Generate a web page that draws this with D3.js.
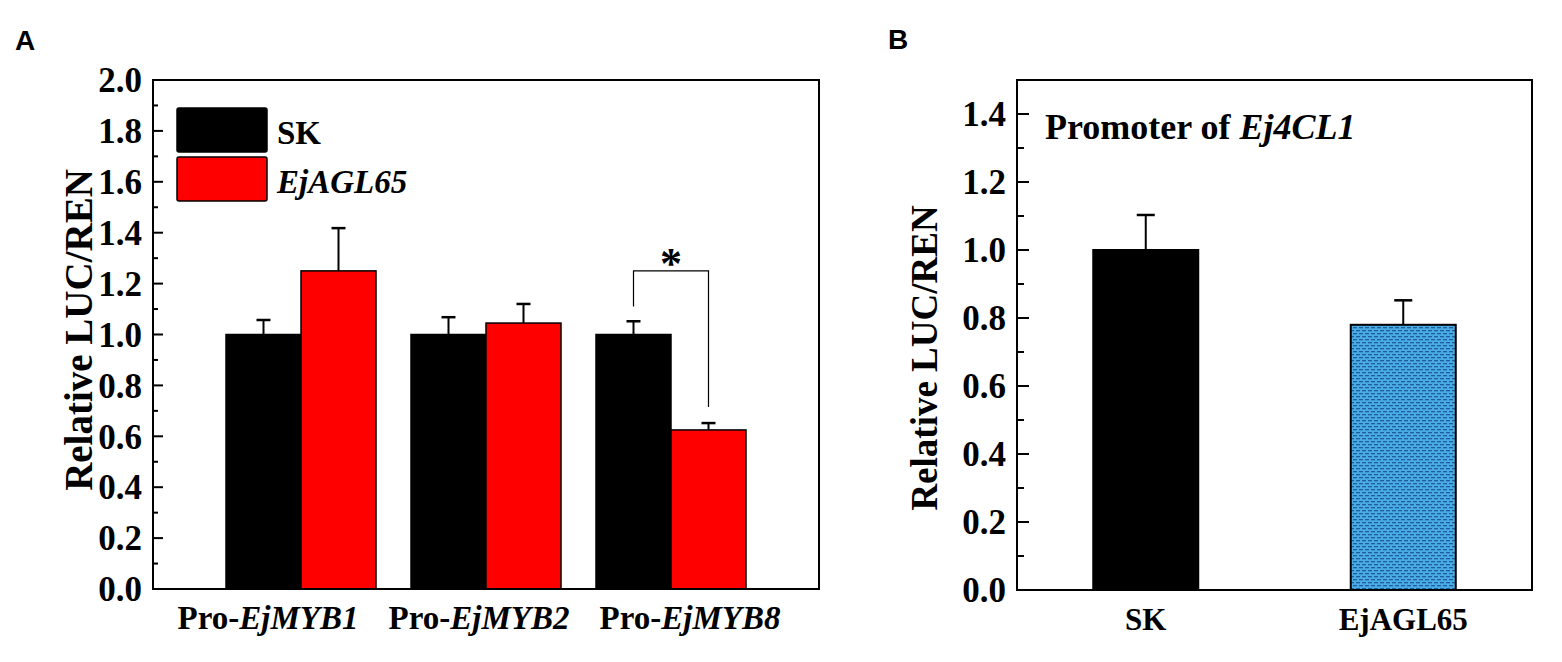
<!DOCTYPE html>
<html><head><meta charset="utf-8">
<script src="https://cdn.jsdelivr.net/npm/d3@7/dist/d3.min.js"></script>
<style>
body{margin:0;background:#fff;}
svg{display:block;}
text{font-family:"Liberation Serif","Times New Roman",serif;font-weight:bold;fill:#000;}
text.panel{font-family:"Liberation Sans",Arial,sans-serif;font-size:28px;font-weight:bold;}
</style></head>
<body>
<svg id="c" width="1562" height="662"></svg>
<script>
// ---- Panel A data ----
const promotersA = ["EjMYB1", "EjMYB2", "EjMYB8"];
const seriesNamesA = ["SK", "EjAGL65"];
const skValuesA = [1.00, 1.00, 1.00];
const skErrorsA = [0.057, 0.068, 0.052];
const aglValuesA = [1.25, 1.045, 0.625];
const aglErrorsA = [0.168, 0.075, 0.027];
const yTicksA = [0, 0.2, 0.4, 0.6, 0.8, 1.0, 1.2, 1.4, 1.6, 1.8, 2.0];
const sigBracketA = {promoter: "EjMYB8", left: 1.11, top: 1.25, right: 0.715, label: "*"};

// ---- Panel B data ----
const categoriesB = ["SK", "EjAGL65"];
const valuesB = [1.00, 0.78];
const errorsB = [0.103, 0.072];
const yTicksB = [0, 0.2, 0.4, 0.6, 0.8, 1.0, 1.2, 1.4];
const titleB = {plain: "Promoter of ", italic: "Ej4CL1"};

const svg = d3.select("#c");
const defs = svg.append("defs");
const pat = defs.append("pattern").attr("id","dash").attr("patternUnits","userSpaceOnUse")
  .attr("width",6).attr("height",6);
pat.append("rect").attr("width",6).attr("height",6).attr("fill","#49ACE6");
pat.append("rect").attr("x",0).attr("y",0).attr("width",4).attr("height",1.3).attr("fill","#1F5E99");
pat.append("rect").attr("x",3).attr("y",3).attr("width",4).attr("height",1.3).attr("fill","#1F5E99");
pat.append("rect").attr("x",-3).attr("y",3).attr("width",4).attr("height",1.3).attr("fill","#1F5E99");

function yAxisInward(g, y, ticks, minorStep, majorLen, minorLen, fontSize, x0, fmt) {
  const dom = y.domain();
  const minors = d3.range(dom[0], dom[1] + 1e-9, minorStep).filter(v => !ticks.some(t => Math.abs(t - v) < 1e-6));
  g.selectAll(".mn").data(minors).join("line")
    .attr("x1", x0).attr("x2", x0 + minorLen).attr("y1", d => y(d)).attr("y2", d => y(d))
    .attr("stroke","#000").attr("stroke-width",2);
  g.selectAll(".mj").data(ticks).join("line")
    .attr("x1", x0).attr("x2", x0 + majorLen).attr("y1", d => y(d)).attr("y2", d => y(d))
    .attr("stroke","#000").attr("stroke-width",2);
  g.selectAll(".tl").data(ticks).join("text")
    .attr("x", x0 - 11).attr("y", d => y(d)).attr("dy","0.35em")
    .attr("text-anchor","end").style("font-size", fontSize + "px")
    .text(d => fmt(d));
}

// ================= Panel A =================
const A = {left:153, right:819, top:80, bottom:589};
const yA = d3.scaleLinear().domain([0, 2.0]).range([A.bottom, A.top]);
const xA = d3.scalePoint().domain(promotersA).range([A.left, A.right]).padding(0.8);
// category labels are spaced slightly wider than the bar groups in the original
const xLabelA = d3.scalePoint().domain(promotersA).range([268, 690]);
const barWA = 75;
const gA = svg.append("g");

svg.append("text").attr("class","panel").attr("x",15).attr("y",50).text("A");

const dataA = promotersA.map((p,i)=>({p, sk:skValuesA[i], skE:skErrorsA[i], ag:aglValuesA[i], agE:aglErrorsA[i]}));
dataA.forEach(d=>{
  const cx = xA(d.p);
  [[cx - barWA/2, d.sk, d.skE],[cx + barWA/2, d.ag, d.agE]].forEach(([bx,v,e])=>{
    gA.append("line").attr("x1",bx).attr("x2",bx).attr("y1",yA(v)).attr("y2",yA(v+e)).attr("stroke","#000").attr("stroke-width",2);
    gA.append("line").attr("x1",bx-7).attr("x2",bx+7).attr("y1",yA(v+e)).attr("y2",yA(v+e)).attr("stroke","#000").attr("stroke-width",2.5);
  });
});
gA.selectAll(".sk").data(dataA).join("rect")
  .attr("x", d => xA(d.p) - barWA).attr("width", barWA)
  .attr("y", d => yA(d.sk)).attr("height", d => yA(0) - yA(d.sk))
  .attr("fill","#000").attr("stroke","#000").attr("stroke-width",1.5);
gA.selectAll(".ag").data(dataA).join("rect")
  .attr("x", d => xA(d.p)).attr("width", barWA)
  .attr("y", d => yA(d.ag)).attr("height", d => yA(0) - yA(d.ag))
  .attr("fill","#FF0000").attr("stroke","#000").attr("stroke-width",1.5);

// significance bracket
{
  const cx = xA(sigBracketA.promoter);
  const xl = cx - barWA/2, xr = cx + barWA/2;
  gA.append("path")
    .attr("d", d3.line()([[xl, yA(sigBracketA.left)],[xl, yA(sigBracketA.top)],[xr, yA(sigBracketA.top)],[xr, yA(sigBracketA.right)]]))
    .attr("fill","none").attr("stroke","#000").attr("stroke-width",1.2);
  gA.append("text").attr("x", cx).attr("y", yA(sigBracketA.top) + 7).attr("text-anchor","middle")
    .style("font-size","44px").text(sigBracketA.label);
}

// frame
gA.append("rect").attr("x",A.left).attr("y",A.top).attr("width",A.right-A.left).attr("height",A.bottom-A.top)
  .attr("fill","none").attr("stroke","#000").attr("stroke-width",2);
yAxisInward(gA, yA, yTicksA, 0.1, 10, 5, 35, A.left, d3.format(".1f"));

// x labels
promotersA.forEach(p=>{
  const t = gA.append("text").attr("x", xLabelA(p)).attr("y", 629).attr("text-anchor","middle").style("font-size","33px");
  t.append("tspan").text("Pro-");
  t.append("tspan").style("font-style","italic").text(p);
});

// y title
gA.append("text").attr("transform","translate(92,330) rotate(-90)").attr("text-anchor","middle")
  .style("font-size","39px").text("Relative LUC/REN");

// legend
const legColors = ["#000","#FF0000"];
seriesNamesA.forEach((s,i)=>{
  gA.append("rect").attr("x",177).attr("y",108 + i*49).attr("width",90).attr("height",44).attr("rx",2)
    .attr("fill",legColors[i]).attr("stroke","#000").attr("stroke-width",1.5);
  gA.append("text").attr("x",277).attr("y",144 + i*49).style("font-size","33px")
    .style("font-style", i===1 ? "italic" : "normal").text(s);
});

// ================= Panel B =================
const B = {left:1017, right:1532, top:80, bottom:590};
const yB = d3.scaleLinear().domain([0, 1.5]).range([B.bottom, B.top]);
const xB = d3.scalePoint().domain(categoriesB).range([B.left, B.right]).padding(0.5);
const barWB = 105;
const gB = svg.append("g");
svg.append("text").attr("class","panel").attr("x",888).attr("y",49).text("B");

const dataB = categoriesB.map((c,i)=>({c, v:valuesB[i], e:errorsB[i]}));
dataB.forEach(d=>{
  const cx = xB(d.c);
  gB.append("line").attr("x1",cx).attr("x2",cx).attr("y1",yB(d.v)).attr("y2",yB(d.v+d.e)).attr("stroke","#000").attr("stroke-width",2);
  gB.append("line").attr("x1",cx-9).attr("x2",cx+9).attr("y1",yB(d.v+d.e)).attr("y2",yB(d.v+d.e)).attr("stroke","#000").attr("stroke-width",2.5);
});
gB.selectAll(".b").data(dataB).join("rect")
  .attr("x", d => xB(d.c) - barWB/2).attr("width", barWB)
  .attr("y", d => yB(d.v)).attr("height", d => yB(0) - yB(d.v))
  .attr("fill", (d,i) => i===0 ? "#000" : "url(#dash)")
  .attr("stroke","#000").attr("stroke-width",2);

gB.append("rect").attr("x",B.left).attr("y",B.top).attr("width",B.right-B.left).attr("height",B.bottom-B.top)
  .attr("fill","none").attr("stroke","#000").attr("stroke-width",2);
yAxisInward(gB, yB, yTicksB, 0.1, 12, 7, 35, B.left, d3.format(".1f"));

categoriesB.forEach(c=>{
  gB.append("text").attr("x", xB(c)).attr("y", 630).attr("text-anchor","middle").style("font-size","31px").text(c);
});

gB.append("text").attr("transform","translate(937,358) rotate(-90)").attr("text-anchor","middle")
  .style("font-size","37px").text("Relative LUC/REN");

{
  const t = gB.append("text").attr("x",1045).attr("y",139).style("font-size","36px");
  t.append("tspan").text(titleB.plain);
  t.append("tspan").style("font-style","italic").text(titleB.italic);
}
</script>
</body></html>
